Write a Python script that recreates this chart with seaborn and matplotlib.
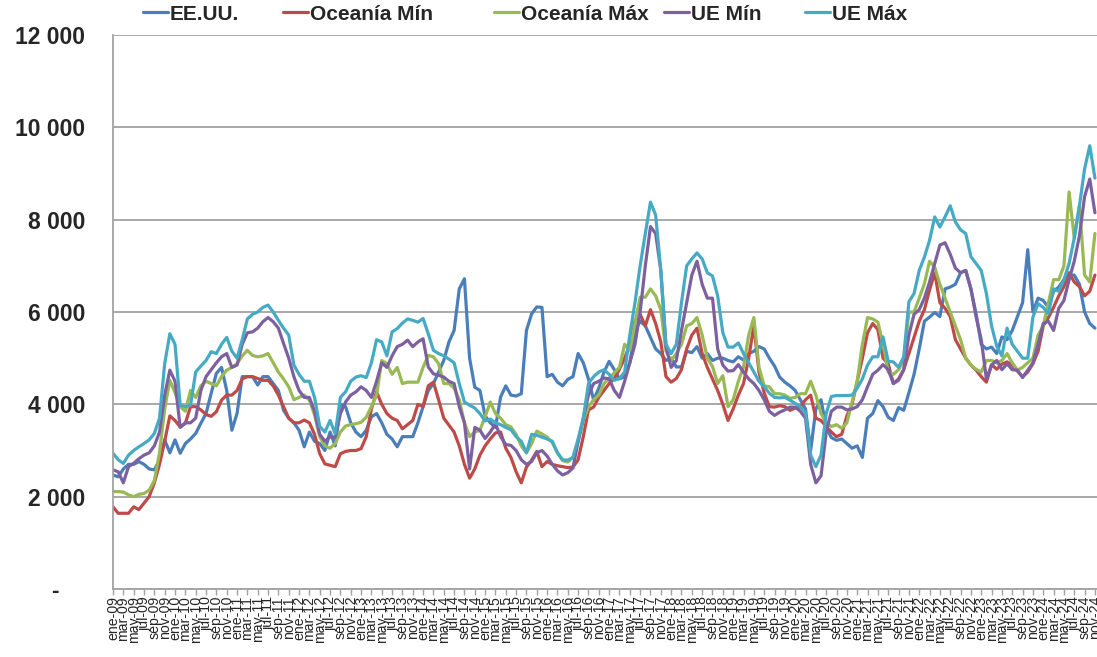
import numpy as np
import pandas as pd
import matplotlib
matplotlib.use("Agg")
import matplotlib.pyplot as plt
import seaborn as sns
from matplotlib.ticker import FuncFormatter

# ---------------- data (USD/t, monthly, ene-09 .. nov-24) ----------------
meses_es = ["ene", "feb", "mar", "abr", "may", "jun", "jul", "ago", "sep", "oct", "nov", "dic"]
anio_inicio = 2009

ee_uu = [
    2470, 2430, 2600, 2700, 2700, 2760, 2700, 2600, 2580, 2790, 3230, 2950, 3230, 2940, 3150, 3250, 3370, 3590, 3800, 4240,
    4670, 4800, 4300, 3440, 3800, 4600, 4600, 4600, 4420, 4600, 4600, 4450, 4300, 3870, 3700, 3600, 3440, 3080,
    3400, 3200, 3150, 3000, 3400, 3100, 4000, 3950, 3600, 3400, 3300, 3440, 3730, 3800, 3600, 3350, 3250, 3080, 3300, 3300,
    3300, 3600, 3950, 4300, 4450, 4700, 4950, 5350, 5600, 6500, 6720, 5000, 4370, 4300, 3750, 3600, 3500,
    4160, 4400, 4200, 4180, 4230, 5600, 5960, 6110, 6100, 4600, 4650, 4480, 4400, 4540, 4600, 5100, 4900, 4550, 4090, 4350,
    4700, 4930, 4750, 4550, 4600, 4900, 5600, 5800, 5700, 5450, 5200, 5100, 4950, 5000, 4810, 4810, 5150,
    5120, 5250, 5000, 5100, 4950, 5000, 5000, 4950, 4920, 5030, 4960, 5100, 5150, 5250, 5200, 5000, 4830, 4590, 4480, 4400,
    4300, 4100, 3900, 3000, 3900, 4100, 3500, 3280, 3220, 3250, 3150, 3050, 3100, 2850, 3700,
    3800, 4080, 3950, 3720, 3650, 3930, 3870, 4250, 4650, 5200, 5800, 5890, 5990, 5900, 6500, 6540, 6600, 6850, 6900, 6500,
    5960, 5300, 5200, 5240, 5100, 5460, 5400, 5600, 5900, 6200, 7350, 6000, 6300, 6250, 6100, 6450, 6540, 6700, 6800, 6800,
    6600, 6000, 5750, 5650,
]
oceania_min = [
    1780, 1640, 1640, 1640, 1780, 1720, 1860, 2000, 2300, 2700, 3200, 3750, 3650, 3510, 3590, 3950, 3950, 3880, 3780, 3740,
    3840, 4090, 4200, 4200, 4300, 4550, 4600, 4600, 4560, 4520, 4520, 4400, 4200, 3950, 3700, 3600, 3600, 3660,
    3600, 3350, 2930, 2710, 2680, 2650, 2930, 2980, 3000, 3000, 3040, 3300, 3900, 4270, 4000, 3800, 3700, 3650, 3470, 3560,
    3650, 4000, 3950, 4400, 4480, 4100, 3700, 3550, 3400, 3100, 2700, 2400, 2600, 2900, 3100, 3250, 3380,
    3400, 3050, 2850, 2540, 2300, 2640, 2790, 2980, 2650, 2760, 2700, 2670, 2650, 2630, 2640, 2800, 3300, 3880, 3940, 4150,
    4300, 4450, 4560, 4760, 5000, 5300, 5800, 5950, 5700, 6050, 5750, 5350, 4600, 4480, 4560, 4750, 5200,
    5500, 5650, 5100, 4800, 4550, 4300, 4000, 3650, 3900, 4200, 4450, 5000, 5700, 4700, 4250, 3950, 3940, 3970, 3950, 3870,
    3920, 3940, 4100, 4200, 3700, 3650, 3520, 3400, 3300, 3350, 3750, 4000, 4500, 5000, 5550,
    5750, 5620, 5000, 4880, 4450, 4550, 4750, 5100, 5450, 5800, 6050, 6480, 6850, 6200, 6080, 5900, 5400, 5200, 5000, 4850,
    4740, 4600, 4480, 4860, 4760, 4870, 4920, 4850, 4720, 4600, 4700, 4880, 5150, 5700, 5880, 6100, 6350, 6550, 6850, 6650,
    6550, 6350, 6450, 6800,
]
oceania_max = [
    2110, 2110, 2100, 2040, 2000, 2050, 2070, 2140, 2350, 2950, 3900, 4520, 4250, 3950, 3850, 4300, 4150, 4400, 4500, 4450,
    4400, 4600, 4740, 4800, 4880, 5050, 5170, 5060, 5030, 5050, 5100, 4900, 4700, 4550, 4380, 4100, 4150, 4200,
    4090, 3770, 3300, 3100, 3050, 3150, 3400, 3530, 3560, 3580, 3610, 3720, 3950, 4200, 4950, 4880, 4650, 4800, 4450, 4480,
    4480, 4480, 4800, 5060, 5030, 4880, 4450, 4450, 4350, 4100, 3600, 3300, 3400, 3440, 3730, 4050, 3800,
    3700, 3560, 3510, 3350, 3100, 2950, 3150, 3420, 3360, 3290, 3170, 2950, 2780, 2750, 2850, 3200, 3650, 3950, 4100, 4200,
    4450, 4570, 4680, 4800, 5300, 5170, 5750, 6320, 6320, 6500, 6350, 6050, 5150, 4950, 5100, 5300, 5700,
    5750, 5880, 5500, 5000, 4820, 4450, 4620, 3950, 4100, 4500, 4810, 5500, 5880, 4800, 4400, 4380, 4230, 4230, 4200, 4130,
    4150, 4230, 4230, 4500, 4200, 3800, 3600, 3520, 3560, 3480, 3600, 4050, 4500, 5300, 5880,
    5850, 5780, 5300, 4700, 4650, 4750, 4950, 6000, 6000, 6300, 6610, 7100, 6970, 6600, 6300, 6000, 5700, 5400, 5000, 4850,
    4760, 4700, 4950, 4950, 4900, 4950, 5100, 4900, 4740, 4800, 4900, 5000, 5500, 5700, 6200, 6700, 6700, 7000, 8600, 7600,
    8300, 6800, 6650, 7700,
]
ue_min = [
    2580, 2540, 2300, 2650, 2720, 2820, 2900, 2950, 3100, 3400, 4200, 4740, 4500, 3500, 3600, 3600, 3700, 4300, 4600, 4750,
    4900, 5030, 5100, 4800, 4850, 5300, 5550, 5570, 5650, 5790, 5880, 5790, 5650, 5320, 5000, 4600, 4300, 4150,
    4150, 3850, 3350, 3200, 3300, 3290, 3800, 4050, 4200, 4270, 4380, 4300, 4150, 4500, 4900, 4800, 5050, 5250, 5300, 5390,
    5250, 5350, 5420, 4810, 4660, 4630, 4590, 4500, 4450, 3950, 3600, 2600, 3500, 3440, 3260, 3400, 3580,
    3300, 3130, 3110, 3000, 2800, 2700, 2760, 2950, 3000, 2880, 2700, 2560, 2470, 2520, 2620, 3200, 3700, 4200, 4450, 4500,
    4570, 4550, 4300, 4150, 4500, 4900, 5300, 6000, 7000, 7850, 7700, 6900, 5250, 4800, 4950, 5600, 6200,
    6800, 7100, 6600, 6300, 6300, 5200, 4850, 4720, 4730, 4860, 4700, 4550, 4450, 4300, 4100, 3850, 3760, 3830, 3880, 3940,
    3940, 3850, 3700, 2700, 2300, 2450, 3400, 3850, 3940, 3940, 3880, 3900, 3950, 4100, 4380,
    4650, 4740, 4860, 4750, 4450, 4520, 4750, 5500, 5950, 6050, 6300, 6650, 7050, 7450, 7500, 7250, 6950, 6850, 6900, 6500,
    5900, 5400, 4550, 4850, 4950, 4750, 4880, 4750, 4740, 4580, 4740, 4900, 5300, 5750, 5800, 5600, 6080, 6250, 6700, 7100,
    7650, 8500, 8880, 8150,
]
ue_max = [
    2940, 2800, 2720, 2900, 3000, 3080, 3150, 3230, 3370, 3700, 4880, 5530, 5300, 3980, 3950, 3980, 4700, 4830, 4950, 5140,
    5100, 5300, 5450, 5150, 5000, 5400, 5850, 5950, 6000, 6100, 6150, 6000, 5820, 5650, 5500, 4850, 4650, 4500,
    4500, 4150, 3520, 3400, 3650, 3360, 4150, 4270, 4500, 4590, 4620, 4580, 4900, 5400, 5350, 5050, 5570, 5640, 5760, 5850,
    5820, 5780, 5860, 5530, 5170, 5100, 5050, 4980, 4900, 4450, 4050, 3980, 3920, 3800, 3640, 3680, 3600,
    3560, 3500, 3450, 3300, 3200, 2950, 3350, 3330, 3290, 3250, 3200, 2950, 2800, 2790, 2850, 3250, 3700, 4450, 4600, 4700,
    4750, 4650, 4520, 4560, 4700, 5500, 6200, 7000, 7700, 8380, 8100, 6900, 5300, 5100, 5300, 6200, 7000,
    7150, 7280, 7150, 6850, 6780, 6350, 5550, 5240, 5240, 5330, 5100, 4900, 4700, 4500, 4380, 4240, 4150, 4140, 4150, 4090,
    4020, 3950, 3820, 2900, 2650, 2900, 3800, 4170, 4190, 4190, 4190, 4200, 4350, 4550, 4850,
    5030, 5030, 5460, 4930, 4920, 4800, 5030, 6220, 6400, 6900, 7190, 7550, 8060, 7840, 8060, 8300, 7950, 7780, 7700, 7200,
    7050, 6900, 6400, 5700, 5260, 5050, 5650, 5300, 5150, 5000, 5000, 5890, 6180, 6100, 5960, 6500, 6450, 6700, 7050, 7600,
    8300, 9100, 9600, 8900,
]

series_nombres = ["EE.UU.", "Oceanía Mín", "Oceanía Máx", "UE Mín", "UE Máx"]
series_valores = [ee_uu, oceania_min, oceania_max, ue_min, ue_max]
colores = ["#4A7EBB", "#BE4B48", "#98B954", "#7D60A0", "#46AAC5"]

n = len(ee_uu)
fechas = [f"{meses_es[i % 12]}-{(anio_inicio + i // 12) % 100:02d}" for i in range(n)]

df = pd.concat(
    [pd.DataFrame({"mes": np.arange(len(v)), "valor": v, "serie": s}) for s, v in zip(series_nombres, series_valores)],
    ignore_index=True,
)

# ---------------- style ----------------
sns.set_theme(style="white")
plt.rcParams["font.family"] = ["Liberation Sans", "DejaVu Sans"]

W, H = 1097, 657
fig = plt.figure(figsize=(W / 100, H / 100), dpi=100)
fig.patch.set_facecolor("white")
ax = fig.add_axes([113 / W, 1 - 589 / H, (W - 113) / W, (589 - 35) / H])

sns.lineplot(
    data=df, x="mes", y="valor", hue="serie", hue_order=series_nombres,
    palette=colores, linewidth=2.3, ax=ax, legend=False,
)

ax.set_xlim(0, 190.4)
ax.set_ylim(0, 12000)
ax.set_yticks(np.arange(0, 12001, 2000))
ax.yaxis.set_major_formatter(FuncFormatter(lambda v, p: "-    " if v == 0 else f"{int(v):,}".replace(",", " ")))
ax.grid(axis="y", color="#A3A3A3", linewidth=1.3)
ax.grid(axis="x", visible=False)
ax.set_axisbelow(True)

ax.set_xticks(np.arange(0, n, 2))
ax.set_xticklabels(fechas[::2], rotation=90, fontsize=10.2)
ax.tick_params(axis="x", length=4, width=1, color="#A3A3A3", pad=1, bottom=True, direction="out")
ax.tick_params(axis="y", length=0, pad=20, labelsize=16.5)
for lab in ax.get_yticklabels():
    lab.set_fontweight("bold")

for side in ["top", "right"]:
    ax.spines[side].set_visible(False)
for side in ["left", "bottom"]:
    ax.spines[side].set_color("#A3A3A3")
    ax.spines[side].set_linewidth(1.3)
ax.set_xlabel("")
ax.set_ylabel("")

# legend entries placed like the original
handles = ax.get_lines()[: len(series_nombres)]
legend_x = [143, 283, 494, 664, 805]
for h, lab, lx in zip(handles, series_nombres, legend_x):
    fig.legend(
        [h], [lab], loc="center left", bbox_to_anchor=(lx / W, 1 - 14 / H),
        frameon=False, borderpad=0, borderaxespad=0, handlelength=1.2, handletextpad=0.1,
        prop={"weight": "bold", "size": 15},
    )

fig.savefig("out.png", dpi=100, facecolor="white")
